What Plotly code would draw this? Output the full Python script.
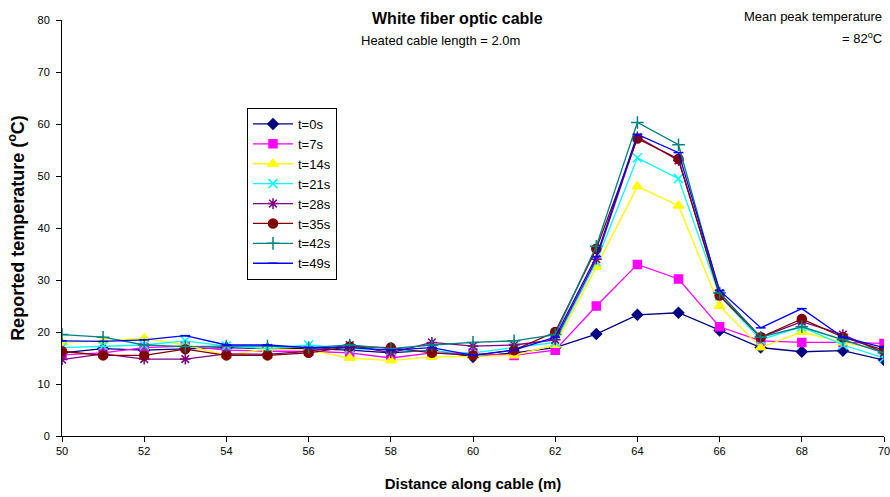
import plotly.graph_objects as go

distance = [50, 51, 52, 53, 54, 55, 56, 57, 58, 59, 60, 61, 62, 63, 64, 65, 66, 67, 68, 69, 70]
series_names = ["t=0s", "t=7s", "t=14s", "t=21s", "t=28s", "t=35s", "t=42s", "t=49s"]

t0 = [16.0, 16.8, 16.5, 16.8, 17.0, 16.8, 16.8, 16.5, 16.0, 16.5, 15.2, 16.0, 17.0, 19.6, 23.3, 23.7, 20.3, 17.0, 16.2, 16.4, 14.6]
t7 = [15.6, 16.0, 17.0, 17.3, 16.5, 16.3, 16.3, 16.0, 15.0, 16.0, 15.8, 15.5, 16.5, 25.0, 33.0, 30.2, 21.0, 18.3, 18.0, 18.0, 17.8]
t14 = [18.0, 18.3, 18.8, 17.5, 15.5, 16.8, 16.5, 15.0, 14.5, 15.2, 15.3, 15.5, 17.5, 32.5, 48.0, 44.3, 25.0, 17.0, 20.0, 18.0, 16.5]
t21 = [17.0, 17.3, 17.5, 18.3, 17.3, 16.8, 17.5, 16.8, 16.5, 16.3, 16.0, 17.0, 18.0, 33.5, 53.5, 49.5, 27.0, 18.5, 21.0, 17.5, 15.0]
t28 = [14.7, 15.8, 14.8, 14.8, 15.8, 15.7, 16.3, 17.5, 16.0, 18.0, 17.3, 17.5, 18.5, 34.0, 57.5, 53.0, 27.5, 19.0, 22.0, 19.5, 16.0]
t35 = [16.3, 15.5, 15.5, 16.7, 15.5, 15.5, 16.0, 17.2, 17.0, 16.0, 15.5, 16.5, 20.0, 36.0, 57.2, 53.3, 27.0, 19.0, 22.5, 19.0, 16.5]
t42 = [19.5, 19.0, 17.5, 17.2, 17.3, 17.3, 17.0, 17.5, 16.8, 17.5, 18.0, 18.3, 19.5, 36.5, 60.3, 56.0, 27.5, 19.0, 21.0, 18.5, 16.0]
t49 = [18.3, 18.2, 18.5, 19.3, 17.5, 17.5, 17.0, 17.0, 16.5, 17.0, 15.5, 16.5, 19.0, 34.5, 58.0, 54.5, 28.0, 20.8, 24.5, 19.0, 17.0]

series_values = [t0, t7, t14, t21, t28, t35, t42, t49]
colors = ["#000080", "#FF00FF", "#FFFF00", "#00FFFF", "#800080", "#800000", "#008080", "#0000FF"]
symbols = ["diamond", "square", "triangle-up", "x-thin-open", "asterisk-open", "circle", "cross-thin-open", "line-ew-open"]
sizes = [8, 8, 9, 9, 9, 9, 9, 7]

fig = go.Figure()
for name, vals, c, s, sz in zip(series_names, series_values, colors, symbols, sizes):
    fig.add_trace(go.Scatter(
        x=distance, y=vals, name=name, mode="lines+markers",
        line=dict(color=c, width=1.3),
        marker=dict(symbol=s, size=sz, color=c, line=dict(color=c, width=1.5)),
    ))

plot_left, plot_right = 62, 884
plot_top, plot_bot = 20, 436

def py(ypx):
    return (plot_bot - ypx) / (plot_bot - plot_top)

def px(xpx):
    return (xpx - plot_left) / (plot_right - plot_left)

fig.update_layout(
    width=890, height=497,
    paper_bgcolor="white", plot_bgcolor="white",
    margin=dict(l=62, r=6, t=20, b=61, autoexpand=False),
    font=dict(family="Liberation Sans, Arial, sans-serif", size=11, color="black"),
    showlegend=True,
    legend=dict(x=px(247), y=py(108), xanchor="left", yanchor="top",
                bordercolor="black", borderwidth=1, bgcolor="white",
                font=dict(size=13), tracegroupgap=0, itemwidth=40),
    annotations=[
        dict(text="<b>White fiber optic cable</b>", x=px(457), y=py(18), xref="paper", yref="paper",
             showarrow=False, font=dict(size=16), yanchor="middle"),
        dict(text="Heated cable length = 2.0m", x=px(440), y=py(40), xref="paper", yref="paper",
             showarrow=False, font=dict(size=13), yanchor="middle"),
        dict(text="Mean peak temperature", x=1.0, y=py(17), xref="paper", yref="paper",
             showarrow=False, font=dict(size=13), xanchor="right", yanchor="middle"),
        dict(text="= 82<sup>o</sup>C", x=1.0, y=py(38), xref="paper", yref="paper",
             showarrow=False, font=dict(size=13), xanchor="right", yanchor="middle"),
    ],
)

fig.update_xaxes(range=[50, 70], tickvals=list(range(50, 71, 2)), showline=True, linecolor="black",
                 linewidth=1, ticks="outside", ticklen=5, tickcolor="black", showgrid=False, zeroline=False,
                 automargin=False, ticklabeloverflow="allow", tickfont=dict(size=11),
                 title=dict(text="<b>Distance along cable (m)</b>", font=dict(size=15), standoff=22))
fig.update_yaxes(range=[0, 80], tickvals=list(range(0, 81, 10)), showline=True, linecolor="black",
                 linewidth=1, ticks="outside", ticklen=5, tickcolor="black", showgrid=False, zeroline=False,
                 automargin=False, ticklabeloverflow="allow", tickfont=dict(size=11), ticklabelstandoff=4,
                 title=dict(text="<b>Reported temperature (<sup>o</sup>C)</b>", font=dict(size=18), standoff=8))

fig.write_html("out.html", config={"displayModeBar": False},
               post_script="document.body.style.margin='0';document.body.style.overflow='hidden';")
